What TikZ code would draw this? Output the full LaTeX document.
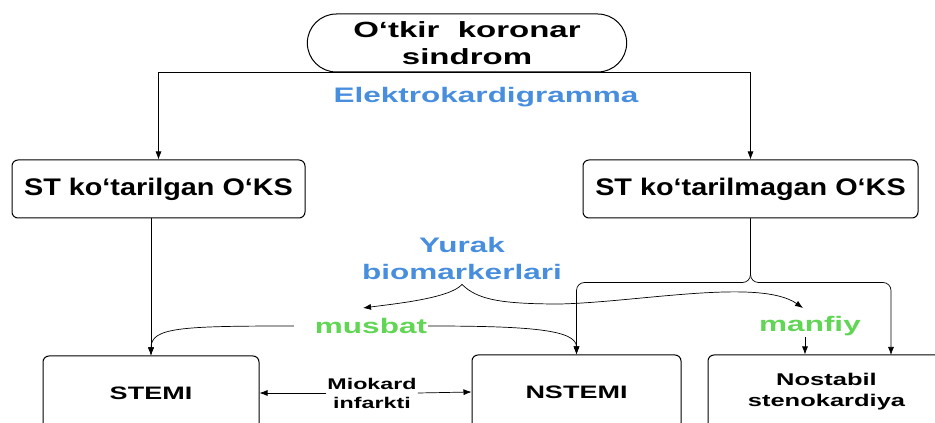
\documentclass[tikz,border=0pt]{standalone}
\usepackage{fontspec}
\setmainfont{Liberation Sans}
\newfontfamily\wfont[FakeStretch=1.5]{Liberation Sans}
\newfontfamily\nfont[FakeStretch=1.2]{Liberation Sans}
\usetikzlibrary{arrows.meta,shapes.misc}
\definecolor{ekgblue}{RGB}{72,142,222}
\definecolor{mgreen}{RGB}{96,214,84}
\tikzstyle{line} = [draw, line width=0.7pt, -{Latex[length=8pt,width=6pt]}]
\tikzstyle{box} = [draw, line width=1pt, rounded corners=6pt, inner sep=0pt, align=center]
\tikzstyle{signtext} = [inner sep=1pt, align=center, font=\wfont\bfseries\fontsize{21}{27}\selectfont]

\begin{document}
\begin{tikzpicture}[x=1pt,y=1pt]
		\useasboundingbox (0,0) rectangle (935,423);
		\clip (0,0) rectangle (935,423);
		
		%boxes
		\node[draw, line width=1pt, rounded rectangle, minimum width=326pt, minimum height=58pt, align=center, font=\wfont\bfseries\fontsize{22}{27}\selectfont](aks) at (467,380) {O‘tkir\ \ koronar\\sindrom};
		\node[box, minimum width=293pt, minimum height=58pt, font=\nfont\bfseries\fontsize{24}{28}\selectfont](stl) at (158.5,234) {ST ko‘tarilgan O‘KS};
		\node[box, minimum width=335pt, minimum height=58pt, font=\nfont\bfseries\fontsize{24}{28}\selectfont](str) at (750.5,234) {ST ko‘tarilmagan O‘KS};
		\node[box, minimum width=216pt, minimum height=74pt, font=\wfont\bfseries\fontsize{18}{22}\selectfont](stemi) at (151,30) {STEMI};
		\node[box, minimum width=209pt, minimum height=74pt, font=\wfont\bfseries\fontsize{18}{22}\selectfont](nstemi) at (576.5,31) {NSTEMI};
		\node[box, minimum width=237pt, minimum height=74pt, font=\wfont\bfseries\fontsize{17}{21}\selectfont](nost) at (826.5,31) {Nostabil\\stenokardiya};
		%labels
		\node[signtext, text=ekgblue](ekg) at (486,326) {Elektrokardigramma};
		\node[signtext, text=ekgblue](bio) at (462,165) {Yurak\\biomarkerlari};
		\node[signtext, text=mgreen](mus) at (371,97) {musbat};
		\node[signtext, text=mgreen](mf) at (810,97) {manfiy};
		\node[inner sep=1pt, align=center, font=\wfont\bfseries\fontsize{15.5}{19}\selectfont](mio) at (372,30) {Miokard\\infarkti};
		%ends
		\coordinate (musin) at (363,115);
		\coordinate (mfin) at (803,115);
		\coordinate (nostin) at (891,68);
		\coordinate (brace) at ([yshift=-64pt]str.south);
		
		%arrows
		\draw[line] (aks.south) -| (stl.north);
		\draw[line] (aks.south) -| (str.north);
		\draw[line] (stl.south -| stemi.north) -- (stemi.north);
		\draw[line, rounded corners=8pt] (str.south) -- (brace) -| (nstemi.north);
		\draw[line, rounded corners=8pt] (str.south) -- (brace) -| (nostin);
		\draw[line] ([yshift=-4pt]bio.south) .. controls +(-12,-14) and +(30,4) .. (musin);
		\draw[line] ([yshift=-4pt]bio.south) .. controls +(15,-15) and (500,119) .. (560,119) .. controls (640,121) and (760,145) .. (mfin);
		\draw[line] ([xshift=-20pt]mus.west) .. controls +(-114,0) and +(0,28) .. (stemi.north);
		\draw[line] (mus.east) .. controls +(100,0) and +(0,25) .. (nstemi.north);
		\draw[line] ([xshift=-5pt]mf.south) -- ([xshift=-5pt]mf.south |- nost.north);
		\draw[line] (mio.west) -- (stemi.east);
		\draw[line] (mio.east) -- (nstemi.west);
		\end{tikzpicture}
\end{document}
